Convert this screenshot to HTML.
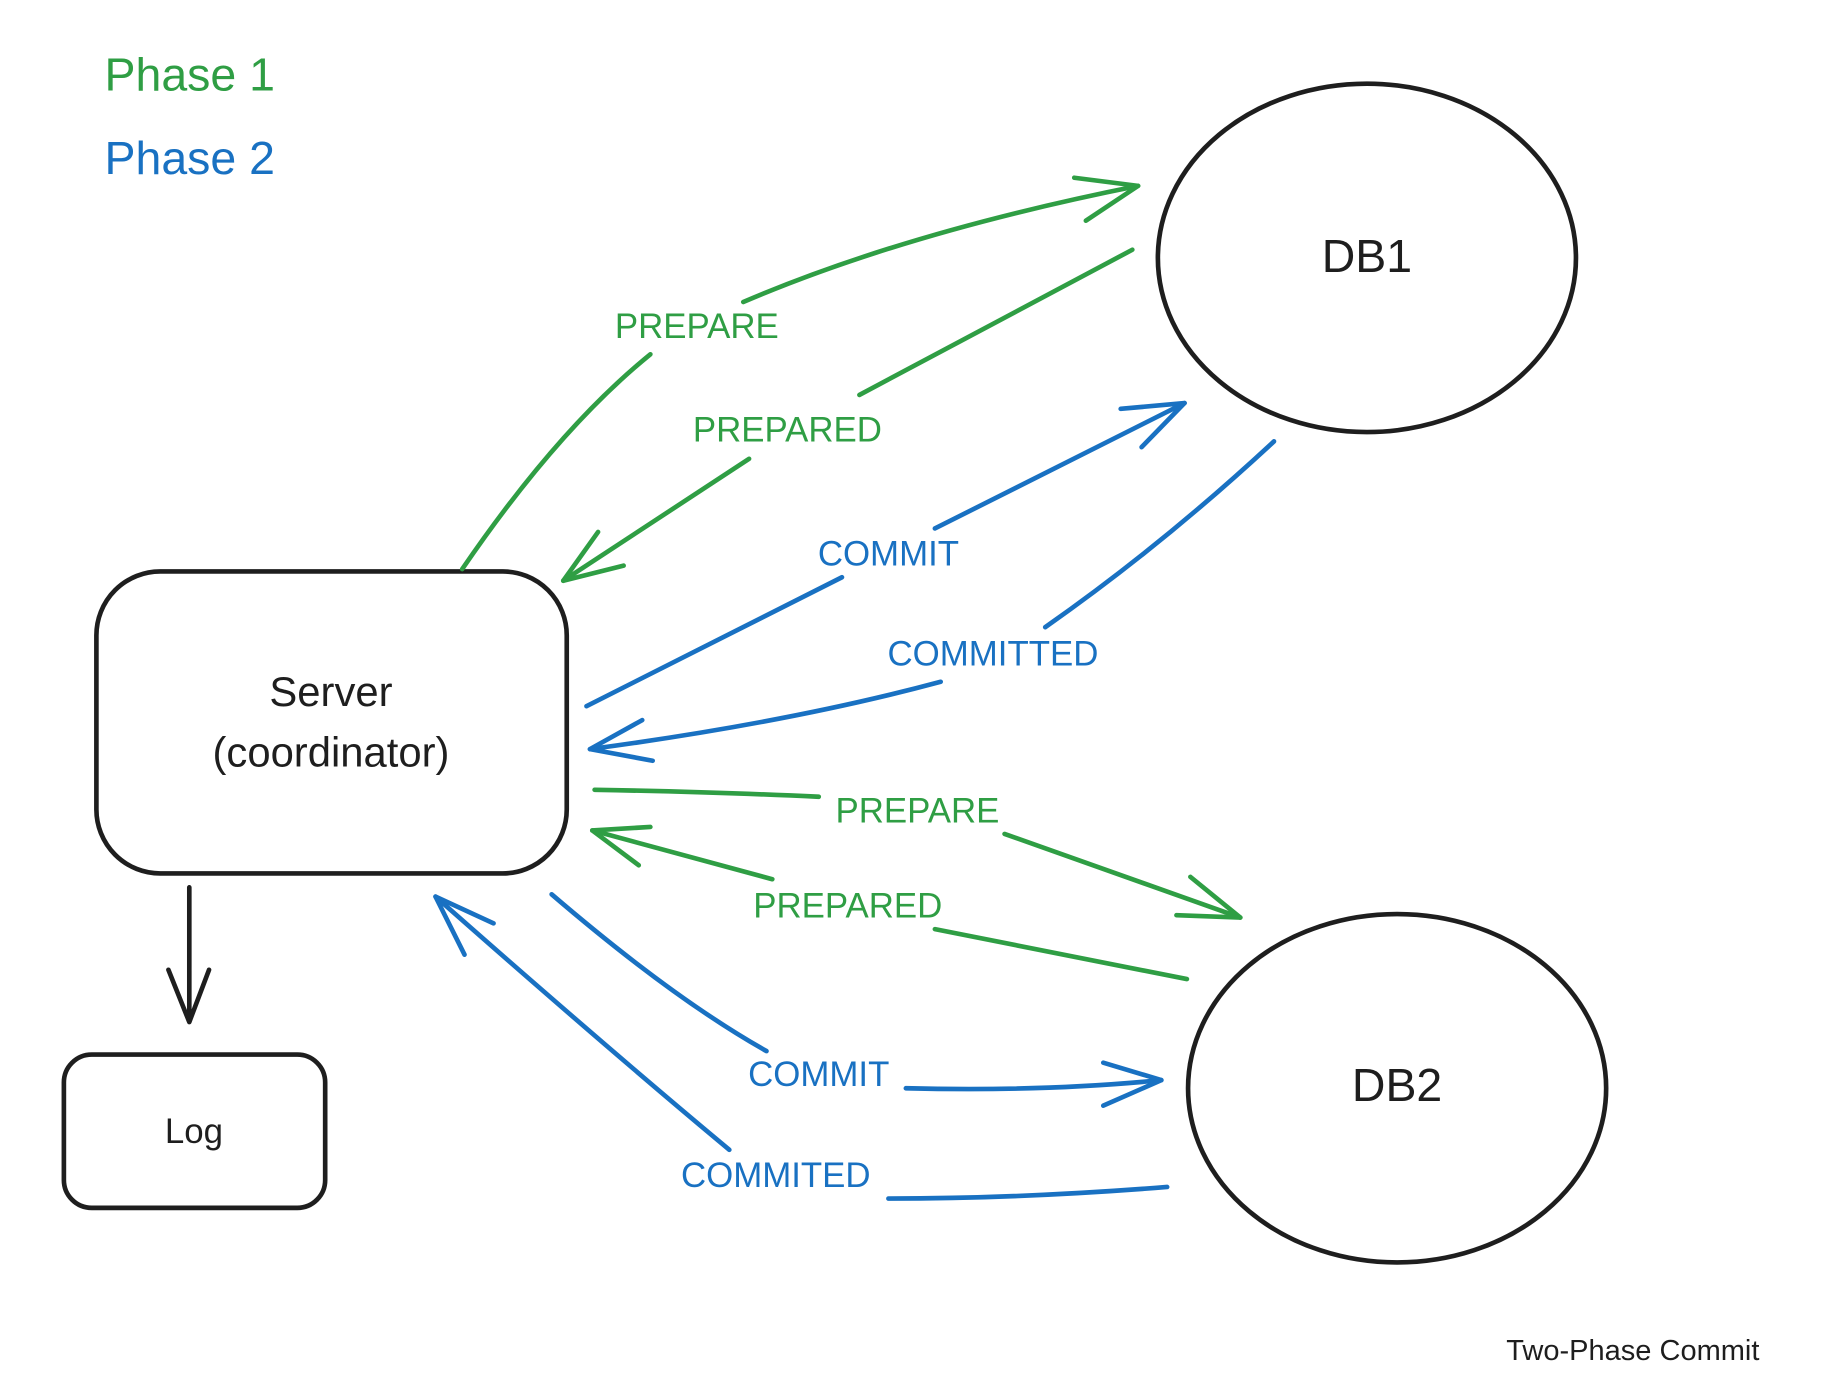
<!DOCTYPE html>
<html><head><meta charset="utf-8"><style>
html,body{margin:0;padding:0;background:#fff;width:1821px;height:1374px;overflow:hidden}
svg{display:block}
text{font-family:"Liberation Sans",sans-serif}
</style></head><body>
<svg width="1821" height="1374" viewBox="0 0 1568 1183" xmlns="http://www.w3.org/2000/svg">
<g fill="none" stroke-linecap="round" stroke-linejoin="round">
<ellipse cx="1177" cy="222" rx="180" ry="150" stroke="#1e1e1e" stroke-width="4"/>
<ellipse cx="1203" cy="937" rx="180" ry="150" stroke="#1e1e1e" stroke-width="4"/>
<rect x="83" y="492" width="405" height="260" rx="55" stroke="#1e1e1e" stroke-width="4"/>
<rect x="55" y="908" width="225" height="132" rx="24" stroke="#1e1e1e" stroke-width="4"/>
<path d="M163 764 L163 880 M145 835 L163 880 L180 835" stroke="#1e1e1e" stroke-width="4"/>
<g stroke="#2f9e44" stroke-width="4">
<path d="M398 490 Q480 370 560 305 M640 260 Q780 200 980 160"/>
<path d="M925 153 L980 160 L935 190"/>
<path d="M975 215 L740 340 M645 395 L485 500"/>
<path d="M515 458 L485 500 L537 487"/>
<path d="M512 680 Q620 682 705 686 M865 718 L1068 790"/>
<path d="M1025 755 L1068 790 L1013 788"/>
<path d="M1022 843 L805 800 M665 757 L510 715"/>
<path d="M550 745 L510 715 L560 712"/>
</g>
<g stroke="#1971c2" stroke-width="4">
<path d="M505 608 L725 497 M805 455 L1020 347"/>
<path d="M965 352 L1020 347 L983 385"/>
<path d="M1097 380 Q1000 470 900 540 M810 587 Q680 622 508 645"/>
<path d="M553 620 L508 645 L562 655"/>
<path d="M475 770 Q580 860 660 905 M780 937 Q900 940 1000 930"/>
<path d="M950 915 L1000 930 L950 952"/>
<path d="M1005 1022 Q880 1032 765 1032 M628 990 Q520 900 375 772"/>
<path d="M400 822 L375 772 L425 795"/>
</g>
</g>
<text x="90" y="78" font-size="40" fill="#2f9e44">Phase 1</text>
<text x="90" y="150" font-size="40" fill="#1971c2">Phase 2</text>
<text x="1177" y="234" font-size="40" fill="#1e1e1e" text-anchor="middle">DB1</text>
<text x="1203" y="948" font-size="40" fill="#1e1e1e" text-anchor="middle">DB2</text>
<text x="285" y="608" font-size="36" fill="#1e1e1e" text-anchor="middle">Server</text>
<text x="285" y="660" font-size="36" fill="#1e1e1e" text-anchor="middle">(coordinator)</text>
<text x="167" y="984" font-size="30" fill="#1e1e1e" text-anchor="middle">Log</text>
<g font-size="30" text-anchor="middle">
<text x="600" y="291" fill="#2f9e44">PREPARE</text>
<text x="678" y="380" fill="#2f9e44">PREPARED</text>
<text x="765" y="487" fill="#1971c2">COMMIT</text>
<text x="855" y="573" fill="#1971c2">COMMITTED</text>
<text x="790" y="708" fill="#2f9e44">PREPARE</text>
<text x="730" y="790" fill="#2f9e44">PREPARED</text>
<text x="705" y="935" fill="#1971c2">COMMIT</text>
<text x="668" y="1022" fill="#1971c2">COMMITED</text>
</g>
<text x="1515" y="1171" font-size="25" fill="#1e1e1e" text-anchor="end">Two-Phase Commit</text>
</svg>
</body></html>
